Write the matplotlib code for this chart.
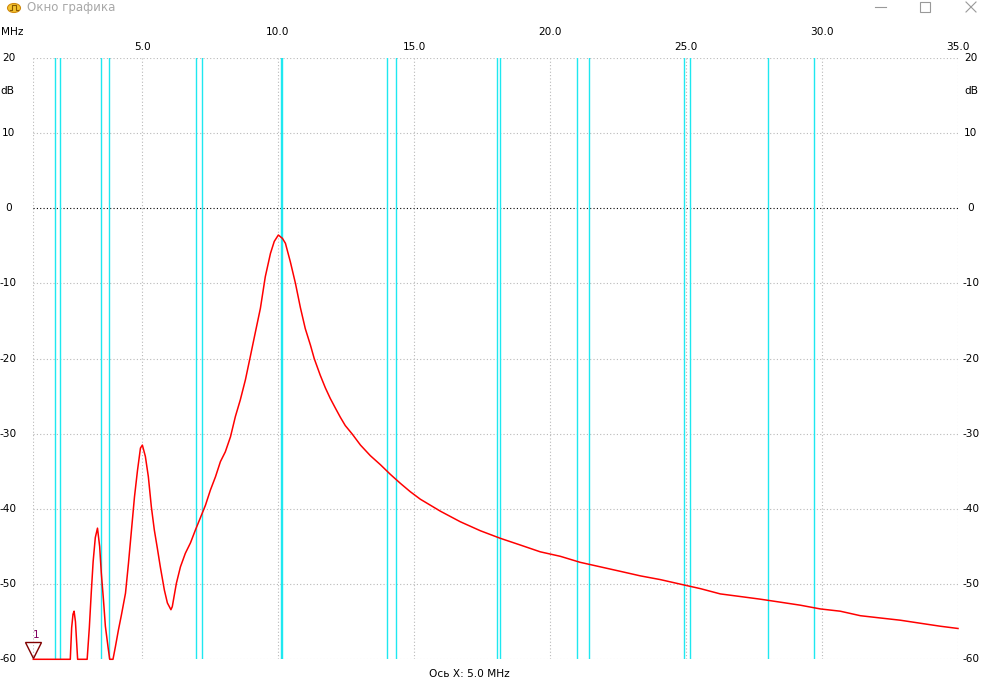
import matplotlib
matplotlib.use("Agg")
from matplotlib import pyplot as plt
from matplotlib import transforms
import numpy as np

plt.rcParams['font.family'] = ['DejaVu Sans']

# frequency response, MHz / dB
freq = [1.00, 2.36, 2.41, 2.46, 2.50, 2.55, 2.59, 2.63, 2.98, 3.06, 3.13, 3.20, 3.28,
        3.36, 3.44, 3.50, 3.58, 3.65, 3.76, 3.81, 3.93, 4.02, 4.13, 4.24, 4.39, 4.50,
        4.61, 4.72, 4.83, 4.94, 5.01, 5.12, 5.23, 5.34, 5.45, 5.56, 5.67, 5.82, 5.93,
        6.06, 6.11, 6.26, 6.41, 6.59, 6.78, 6.96, 7.14, 7.33, 7.51, 7.70, 7.88, 8.06,
        8.25, 8.43, 8.61, 8.80, 8.98, 9.17, 9.35, 9.53, 9.72, 9.86, 10.01, 10.16, 10.27,
        10.45, 10.64, 10.82, 11.00, 11.19, 11.33, 11.55, 11.74, 11.92, 12.11, 12.29,
        12.47, 12.72, 13.03, 13.39, 13.76, 14.13, 14.50, 14.86, 15.23, 15.97, 16.70, 17.44,
        18.17, 18.91, 19.64, 20.38, 21.11, 21.85, 22.59, 23.32, 24.06, 24.79, 25.53,
        26.26, 27.00, 27.73, 28.47, 29.20, 29.94, 30.67, 31.41, 32.14, 32.88, 33.61,
        34.35, 35.00]
level = [-60.0, -60.0, -55.8, -54.0, -53.6, -55.0, -57.5, -60.0, -60.0, -55.8, -51.2,
         -47.0, -43.8, -42.55, -45.0, -48.5, -52.1, -55.6, -58.7, -60.0, -60.0, -58.3,
         -56.1, -54.1, -51.2, -47.2, -42.8, -38.4, -34.9, -31.9, -31.5, -33.0, -35.7,
         -39.7, -42.8, -45.2, -47.7, -50.8, -52.5, -53.4, -53.0, -49.9, -47.7, -45.9,
         -44.5, -42.8, -41.2, -39.5, -37.5, -35.7, -33.7, -32.4, -30.4, -27.7, -25.5,
         -22.8, -19.7, -16.4, -13.3, -9.1, -6.0, -4.4, -3.55, -4.0, -4.65, -7.1, -10.0,
         -13.2, -16.0, -18.2, -20.0, -22.2, -23.9, -25.3, -26.6, -27.8, -28.9, -30.0,
         -31.5, -32.9, -34.1, -35.4, -36.6, -37.7, -38.7, -40.3, -41.7, -42.9, -43.9,
         -44.8, -45.7, -46.3, -47.1, -47.7, -48.3, -48.9, -49.4, -50.0, -50.6, -51.3,
         -51.65, -52.0, -52.4, -52.8, -53.3, -53.6, -54.2, -54.5, -54.8, -55.2, -55.6,
         -55.9]

# ham band edges (MHz)
band_edges = [1.80, 2.00, 3.50, 3.80, 7.00, 7.20, 10.10, 10.15, 14.00, 14.35,
              18.068, 18.168, 21.00, 21.45, 24.91, 25.13, 28.00, 29.70]

x_grid = [1, 5, 10, 15, 20, 25, 30, 35]
x_ticks = [5, 10, 15, 20, 25, 30, 35]
x_labels = ['5.0', '10.0', '15.0', '20.0', '25.0', '30.0', '35.0']
y_ticks = [20, 10, 0, -10, -20, -30, -40, -50, -60]
y_labels = ['20', '10', '0', '-10', '-20', '-30', '-40', '-50', '-60']

W, H = 992, 686
fig = plt.figure(figsize=(W / 100, H / 100), dpi=100)
fig.patch.set_facecolor('white')
ax = fig.add_axes([33.3 / W, (H - 659.3) / H, (958 - 33.3) / W, (659.3 - 58) / H])
ax.set_xlim(1, 35)
ax.set_ylim(-60, 20)
ax.axis('off')

dot = (0, (1, 2))
for xv in x_grid:
    ax.axvline(xv, color='#b9b9b9', lw=0.8, ls=dot, zorder=1)
for yv in y_ticks:
    c = 'black' if yv == 0 else '#b9b9b9'
    ax.axhline(yv, color=c, lw=0.8, ls=dot, zorder=1)

for b in band_edges:
    ax.axvline(b, color='#1ee8f0', lw=1.0, zorder=2)

ax.plot(freq, level, color='#ff0000', lw=1.1, zorder=3, clip_on=False)

# marker 1
tr = transforms.offset_copy(ax.transData, fig=fig, x=0, y=6.5, units='points')
ax.plot([1], [-60], marker='v', ms=12, mfc='none', mec='#800000', mew=1.0,
        transform=tr, clip_on=False, zorder=5)
ax.annotate('1', (1, -60), xytext=(2, 14), textcoords='offset points',
            color='#800060', fontsize=7.5, ha='center', va='bottom')

fs = 7.6
# x tick labels, alternating rows
for i, (xv, lab) in enumerate(zip(x_ticks, x_labels)):
    ypix = 47 if i % 2 == 0 else 32
    tt = transforms.blended_transform_factory(ax.transData, fig.transFigure)
    ax.text(xv, 1 - ypix / H, lab, transform=tt, ha='center', va='center', fontsize=fs)
fig.text(12 / W, 1 - 32 / H, 'MHz', ha='center', va='center', fontsize=fs)

# y tick labels both sides
ty = transforms.blended_transform_factory(fig.transFigure, ax.transData)
for yv, lab in zip(y_ticks, y_labels):
    ax.text(8.5 / W, yv, lab, transform=ty, ha='center', va='center', fontsize=fs)
    ax.text(971 / W, yv, lab, transform=ty, ha='center', va='center', fontsize=fs)
fig.text(7 / W, 1 - 91 / H, 'dB', ha='center', va='center', fontsize=fs)
fig.text(971 / W, 1 - 91 / H, 'dB', ha='center', va='center', fontsize=fs)

fig.text(469 / W, 1 - 674 / H, 'Ось X: 5.0 MHz', ha='center', va='center', fontsize=fs)

# window title bar
fig.text(27 / W, 1 - 8 / H, 'Окно графика', ha='left', va='center', fontsize=8.5,
         color='#a8a8a8')
fig.patches.append(plt.Circle((14 / W, 1 - 8 / H), 6.5 / W, transform=fig.transFigure,
                              facecolor='#f4c430', edgecolor='#d08a10', lw=0.8))
fig.lines.append(plt.Line2D(np.array([10, 12, 12, 16, 16, 18]) / W,
                            1 - np.array([10, 10, 5, 5, 10, 10]) / H,
                            transform=fig.transFigure, color='#8a5a00', lw=0.8))
fig.lines.append(plt.Line2D([875 / W, 886 / W], [1 - 7 / H, 1 - 7 / H],
                            transform=fig.transFigure, color='#999999', lw=0.8))
fig.patches.append(plt.Rectangle((920 / W, 1 - 12 / H), 10 / W, 10 / H,
                                 transform=fig.transFigure, fill=False,
                                 edgecolor='#999999', lw=0.8))
fig.lines.append(plt.Line2D([966 / W, 976 / W], [1 - 2 / H, 1 - 12 / H],
                            transform=fig.transFigure, color='#999999', lw=0.8))
fig.lines.append(plt.Line2D([966 / W, 976 / W], [1 - 12 / H, 1 - 2 / H],
                            transform=fig.transFigure, color='#999999', lw=0.8))

fig.savefig('out.png', dpi=100, facecolor='white')
